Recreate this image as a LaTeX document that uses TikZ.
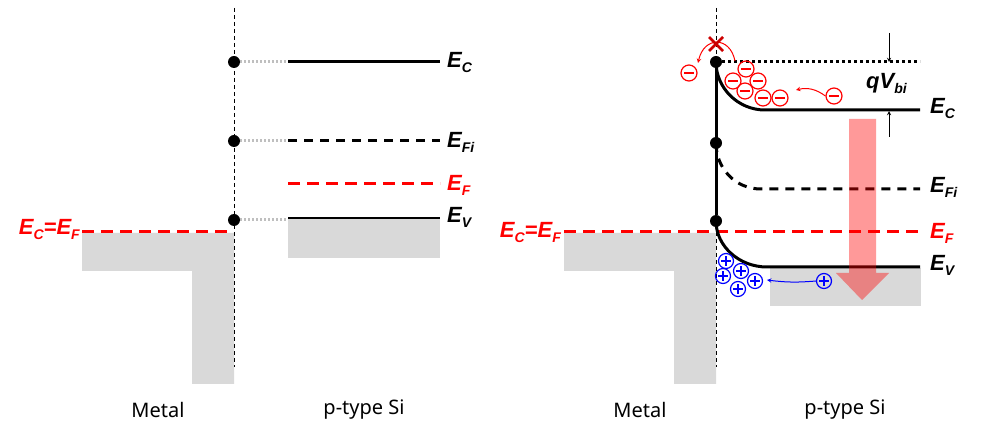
\documentclass[tikz,border=0pt]{standalone}
\usepackage{fontspec}
\setmainfont{Noto Sans}
\newfontfamily\lblfont{Liberation Sans}
\newcommand{\lvl}[2]{#1\raisebox{-5pt}{\fontsize{14}{14}\selectfont #2}}
\begin{document}
\begin{tikzpicture}[x=1pt,y=-1pt,
    band/.style={line width=3pt},
    lev/.style={line width=3pt,dash pattern=on 9pt off 7pt},
    fermi/.style={red,line width=3pt,dash pattern=on 12pt off 7pt},
    link/.style={black!25,line width=3pt,dash pattern=on 2pt off 2pt},
    iface/.style={line width=0.8pt,dash pattern=on 4pt off 3pt},
    fill15/.style={fill=black!15},
    dot/.style={circle,fill,inner sep=0pt,minimum size=12pt},
    lbl/.style={anchor=west,inner sep=0pt,font=\fontsize{22}{26}\lblfont\bfseries\itshape},
    capt/.style={font=\fontsize{20}{24}\selectfont},
    elec/.style={circle,draw=red,line width=1.2pt,minimum size=16pt,inner sep=0pt,
      path picture={\draw[red,line width=1.2pt] ([xshift=-5pt]path picture bounding box.center) -- ([xshift=5pt]path picture bounding box.center);}},
    hole/.style={circle,draw=blue,line width=1.2pt,minimum size=15pt,inner sep=0pt,
      path picture={\draw[blue,line width=1.2pt] ([xshift=-5pt]path picture bounding box.center) -- ([xshift=5pt]path picture bounding box.center)
        ([yshift=-5pt]path picture bounding box.center) -- ([yshift=5pt]path picture bounding box.center);}}]
\useasboundingbox (0,0) rectangle (989,446);
% left: before contact
\fill [fill15] (82,233) -- (234,233) -- (234,384) -- (192,384) -- (192,271) -- (82,271) -- cycle;
\fill [fill15] (288,219) rectangle (440,258);
\draw [iface] (234,8) -- (234,367);
\draw [fermi] (82,232) -- (234,232);
\node [dot] (lc) at (234,62) {};
\node [dot] (li) at (234,141) {};
\node [dot] (lv) at (234,220) {};
\coordinate (lce) at (288,62);
\coordinate (lie) at (288,141);
\coordinate (lve) at (288,220);
\draw [link] (lc) -- (lce);
\draw [link] (li) -- (lie);
\draw [link] (lv) -- (lve);
\draw [band] (lce) -- (440,62);
\draw [lev] (lie) -- (440,141);
\draw [fermi] (288,184) -- (440,184);
\draw [line width=2pt] (288,218) -- (440,218);
\node [lbl] (lEC) at (447,63) {\lvl{E}{C}};
\node [lbl] (lEFi) at (447,142) {\lvl{E}{Fi}};
\node [lbl,red] (lEF) at (447,185) {\lvl{E}{F}};
\node [lbl] (lEV) at (447,217) {\lvl{E}{V}};
\node [lbl,red,anchor=east] (lmEF) at (80,230) {\lvl{E}{C}=\lvl{E}{F}};
\node [capt] (lmetal) at (158,410) {Metal};
\node [capt] (lsemi) at (364,410) {p-type Si};
% right: in contact
\fill [fill15] (564,233) -- (716,233) -- (716,384) -- (674,384) -- (674,271) -- (564,271) -- cycle;
\fill [fill15] (770,268) rectangle (921,306);
\draw [iface] (716,8) -- (716,367);
\draw [fermi] (564,232) -- (920,232);
\node [dot] (rc) at (716,62) {};
\node [dot] (ri) at (716,143) {};
\node [dot] (rv) at (716,221) {};
\draw [band] (rc) -- (rv);
\draw [band] (rc.center) .. controls (716,88) and (738,110) .. (765,110) -- (920,110);
\draw [lev] (ri.center) .. controls (716,168) and (735,189) .. (761,189) -- (920,189);
\draw [band] (rv.center) .. controls (716,246) and (739,267) .. (767,267) -- (920,267);
\draw [line width=3pt,dash pattern=on 3pt off 3pt] (722,62) -- (920,62);
\coordinate (vt) at (889,33);
\coordinate (vtb) at (889,62);
\coordinate (vb) at (889,137);
\coordinate (vbb) at (889,111);
\draw [-stealth,line width=0.9pt] (vt) -- (vtb);
\draw [-stealth,line width=0.9pt] (vb) -- (vbb);
\node [lbl] (qvbi) at (866,84) {q\lvl{V}{bi}};
\node [lbl] (rEC) at (930,109) {\lvl{E}{C}};
\node [lbl] (rEFi) at (930,187) {\lvl{E}{Fi}};
\node [lbl,red] (rEF) at (930,233) {\lvl{E}{F}};
\node [lbl] (rEV) at (930,265) {\lvl{E}{V}};
\node [lbl,red,anchor=east] (rmEF) at (561,233) {\lvl{E}{C}=\lvl{E}{F}};
\node [capt] (rmetal) at (640,410) {Metal};
\node [capt] (rsemi) at (845,410) {p-type Si};
% band bending arrow
\fill [red,fill opacity=0.4] (849,119) -- (876,119) -- (876,273) -- (889,273) -- (862,300) -- (836,273) -- (849,273) -- cycle;
% electrons
\node [elec] (e1) at (689,73) {};
\node [elec] (e2) at (746,69) {};
\node [elec] (e3) at (733,81) {};
\node [elec] (e4) at (758,81) {};
\node [elec] (e5) at (745,91) {};
\node [elec] (e6) at (763,98) {};
\node [elec] (e7) at (780,98) {};
\node [elec] (e8) at (834,96) {};
\coordinate (e8t) at (796,90);
\draw [red,line width=1pt,-stealth] (e8.west) to[bend right=25] (e8t);
\coordinate (xs) at (735,61);
\coordinate (xt) at (698,63);
\draw [red,line width=1pt,-stealth] (xs) .. controls (730,36) and (704,36) .. (xt);
\draw [red!80!black,line width=2.5pt] (709,37) -- (723,51) (709,51) -- (723,37);
% holes
\node [hole] (h1) at (726,261) {};
\node [hole] (h2) at (723,276) {};
\node [hole] (h3) at (741,271) {};
\node [hole] (h4) at (755,281) {};
\node [hole] (h5) at (738,289) {};
\node [hole] (h6) at (824,281) {};
\coordinate (h6t) at (767,280);
\draw [blue,line width=1pt,-stealth] (h6.west) to[bend left=6] (h6t);
\end{tikzpicture}
\end{document}
